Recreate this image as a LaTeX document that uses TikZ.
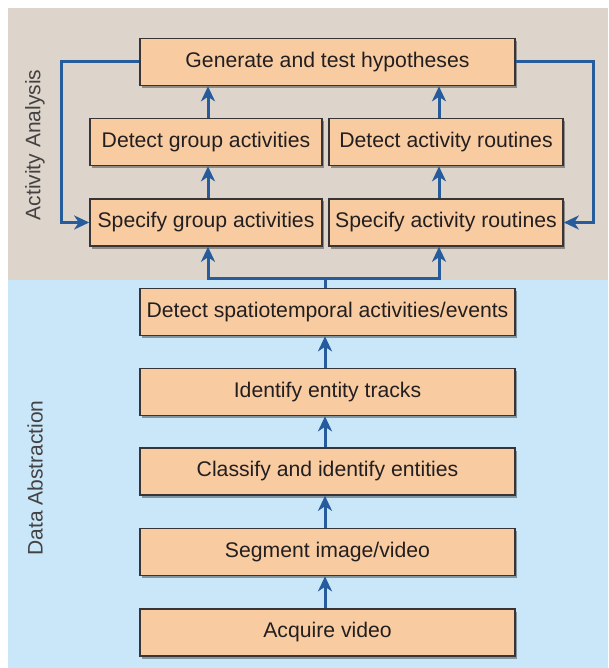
\documentclass[tikz,border=0pt]{standalone}
\usepackage{fontspec}
\setmainfont{Liberation Sans}
\usetikzlibrary{arrows.meta,shadows}
\definecolor{beigebg}{HTML}{DDD5CB}
\definecolor{bluebg}{HTML}{C9E7F9}
\definecolor{boxfill}{HTML}{F8CBA1}
\definecolor{arrblue}{HTML}{265C9C}
\definecolor{txt}{HTML}{231F20}
\tikzset{
  stepbox/.style={draw=txt!90, line width=1.6pt, fill=boxfill, text=txt,
    font=\fontsize{21.2}{25}\selectfont, inner sep=0pt, minimum height=47pt,
    drop shadow={shadow xshift=2pt, shadow yshift=-2.5pt, opacity=0.35, fill=black}},
  arr/.style={draw=arrblue, line width=3pt, -{Stealth[length=15pt,width=14pt,inset=4.5pt]}},
  sidelabel/.style={rotate=90, text=txt!85, font=\fontsize{21}{25}\selectfont}
}
\begin{document}
\begin{tikzpicture}[x=1pt,y=-1pt]
\useasboundingbox (0,0) rectangle (608,668);
\fill[beigebg] (8,8) rectangle (608,280);
\fill[bluebg] (8,280) rectangle (608,668);
\node[sidelabel] (la) at (35,145) {Activity Analysis};
\node[sidelabel] (lb) at (35,478) {Data Abstraction};

\node[stepbox, minimum width=375pt] (gen) at (327.5,62) {Generate and test hypotheses};
\node[stepbox, minimum width=232pt] (dga) at (206,142) {Detect group activities};
\node[stepbox, minimum width=234pt] (dar) at (446,142) {Detect activity routines};
\node[stepbox, minimum width=232pt] (sga) at (206,222.5) {Specify group activities};
\node[stepbox, minimum width=234pt] (sar) at (446,222.5) {Specify activity routines};
\node[stepbox, minimum width=375pt] (dst) at (327.5,312) {Detect spatiotemporal activities/events};
\node[stepbox, minimum width=375pt] (iet) at (327.5,392) {Identify entity tracks};
\node[stepbox, minimum width=375pt] (cie) at (327.5,471.5) {Classify and identify entities};
\node[stepbox, minimum width=375pt] (sim) at (327.5,552) {Segment image/video};
\node[stepbox, minimum width=375pt] (acq) at (327.5,632.5) {Acquire video};

\coordinate (cg) at (208,0);
\coordinate (cr) at (439,0);
\coordinate (cm) at (325,0);
\coordinate (lx) at (61,0);
\coordinate (rx) at (593,0);
\coordinate (sy) at (0,278);

% vertical chain
\draw[arr] (cm |- acq.north) -- (cm |- sim.south);
\draw[arr] (cm |- sim.north) -- (cm |- cie.south);
\draw[arr] (cm |- cie.north) -- (cm |- iet.south);
\draw[arr] (cm |- iet.north) -- (cm |- dst.south);
% split
\draw[arr] (cm |- dst.north) -- (cm |- sy) -| (cg |- sga.south);
\draw[arr] (cm |- dst.north) -- (cm |- sy) -| (cr |- sar.south);
% activity analysis
\draw[arr] (cg |- sga.north) -- (cg |- dga.south);
\draw[arr] (cr |- sar.north) -- (cr |- dar.south);
\draw[arr] (cg |- dga.north) -- (cg |- gen.south);
\draw[arr] (cr |- dar.north) -- (cr |- gen.south);
% loops
\draw[arr] (gen.west) -| (lx |- sga.west) -- (sga.west);
\draw[arr] (gen.east) -| (rx |- sar.east) -- (sar.east);
\end{tikzpicture}
\end{document}
